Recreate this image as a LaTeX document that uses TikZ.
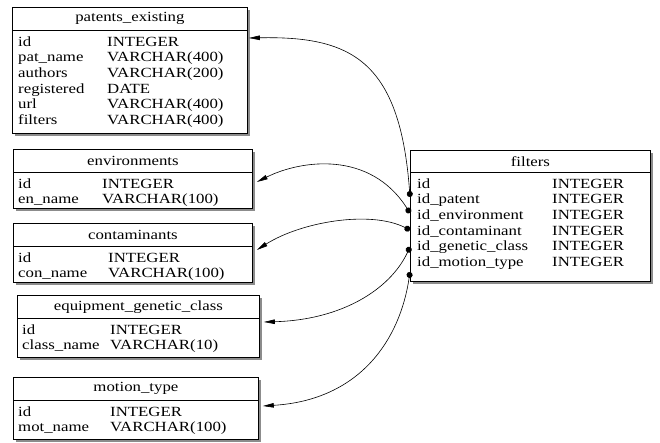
\documentclass[tikz,border=0pt]{standalone}
\usepackage{fontspec}
\setmainfont{Liberation Serif}[FakeStretch=1.2]
\usetikzlibrary{positioning,calc,shadows,arrows.meta}

\begin{document}
\begin{tikzpicture}[
    x=1pt, y=-1pt,
    font=\fontsize{14}{15.7}\selectfont,
    tbl/.style={draw, rectangle, fill=white, anchor=north west, inner sep=0pt, line width=0.8pt,
        general shadow={fill=gray!90, shadow xshift=3pt, shadow yshift=-3pt}},
    ttl/.style={minimum height=23pt, inner sep=0pt},
    rows/.style={anchor=north west, inner sep=0pt, xshift=6pt, yshift=-4.5pt},
    sep/.style={line width=0.6pt},
    rel/.style={arrows={Circle[length=6pt]-Triangle[length=11pt,width=4.5pt]}, line width=0.6pt}
]
\useasboundingbox (0,0) rectangle (660,443);

% Tables
\node[tbl, minimum width=235pt, minimum height=126pt] (patents) at (12,7) {};
\node[ttl, below=0pt of patents.north] (patents-t) {patents\_existing};
\draw[sep] (patents.west |- patents-t.south) -- (patents.east |- patents-t.south);
\node[rows] (patents-f) at (patents.west |- patents-t.south) {%
  \begin{tabular}{@{}p{89pt}@{}l@{}}
  id & INTEGER\\
  pat\_name & VARCHAR(400)\\
  authors & VARCHAR(200)\\
  registered & DATE\\
  url & VARCHAR(400)\\
  filters & VARCHAR(400)
  \end{tabular}};

\node[tbl, minimum width=239pt, minimum height=59pt] (env) at (13,149) {};
\node[ttl, below=0pt of env.north] (env-t) {environments};
\draw[sep] (env.west |- env-t.south) -- (env.east |- env-t.south);
\node[rows, xshift=-1pt] (env-f) at (env.west |- env-t.south) {%
  \begin{tabular}{@{}p{84pt}@{}l@{}}
  id & INTEGER\\
  en\_name & VARCHAR(100)
  \end{tabular}};

\node[tbl, minimum width=239pt, minimum height=59pt] (cont) at (13,223) {};
\node[ttl, below=0pt of cont.north] (cont-t) {contaminants};
\draw[sep] (cont.west |- cont-t.south) -- (cont.east |- cont-t.south);
\node[rows, xshift=-1pt] (cont-f) at (cont.west |- cont-t.south) {%
  \begin{tabular}{@{}p{90pt}@{}l@{}}
  id & INTEGER\\
  con\_name & VARCHAR(100)
  \end{tabular}};

\node[tbl, minimum width=242pt, minimum height=62pt] (equip) at (17,295) {};
\node[ttl, below=0pt of equip.north] (equip-t) {equipment\_genetic\_class};
\draw[sep] (equip.west |- equip-t.south) -- (equip.east |- equip-t.south);
\node[rows, xshift=-1pt] (equip-f) at (equip.west |- equip-t.south) {%
  \begin{tabular}{@{}p{88pt}@{}l@{}}
  id & INTEGER\\
  class\_name & VARCHAR(10)
  \end{tabular}};

\node[tbl, minimum width=245pt, minimum height=62pt] (motion) at (13,377) {};
\node[ttl, below=0pt of motion.north] (motion-t) {motion\_type};
\draw[sep] (motion.west |- motion-t.south) -- (motion.east |- motion-t.south);
\node[rows, xshift=-1pt] (motion-f) at (motion.west |- motion-t.south) {%
  \begin{tabular}{@{}p{92pt}@{}l@{}}
  id & INTEGER\\
  mot\_name & VARCHAR(100)
  \end{tabular}};

\node[tbl, minimum width=240pt, minimum height=131pt] (filters) at (410,150) {};
\node[ttl, minimum height=22pt, below=0pt of filters.north] (filters-t) {filters};
\draw[sep] (filters.west |- filters-t.south) -- (filters.east |- filters-t.south);
\node[rows, xshift=1pt] (filters-f) at (filters.west |- filters-t.south) {%
  \begin{tabular}{@{}p{135pt}@{}l@{}}
  id & INTEGER\\
  id\_patent & INTEGER\\
  id\_environment & INTEGER\\
  id\_contaminant & INTEGER\\
  id\_genetic\_class & INTEGER\\
  id\_motion\_type & INTEGER
  \end{tabular}};

% References
\draw[rel] ($(filters.north west)+(0,47)$) .. controls +(-10,-137) and +(102,-2) .. ($(patents.north east)+(1,31)$);
\draw[rel] ($(filters.north west)+(0,63)$) .. controls +(-40,-63) and +(44,-22) .. ($(env.north east)+(4,33)$);
\draw[rel] ($(filters.north west)+(0,80)$) .. controls +(-40,-20) and +(44,-28) .. ($(cont.north east)+(4,27)$);
\draw[rel] ($(filters.north west)+(0,97)$) .. controls +(-20,43) and +(77,-2) .. ($(equip.north east)+(4,27)$);
\draw[rel] ($(filters.north west)+(0,122)$) .. controls +(-10,68) and +(97,-6) .. ($(motion.north east)+(4,29)$);

\end{tikzpicture}
\end{document}
